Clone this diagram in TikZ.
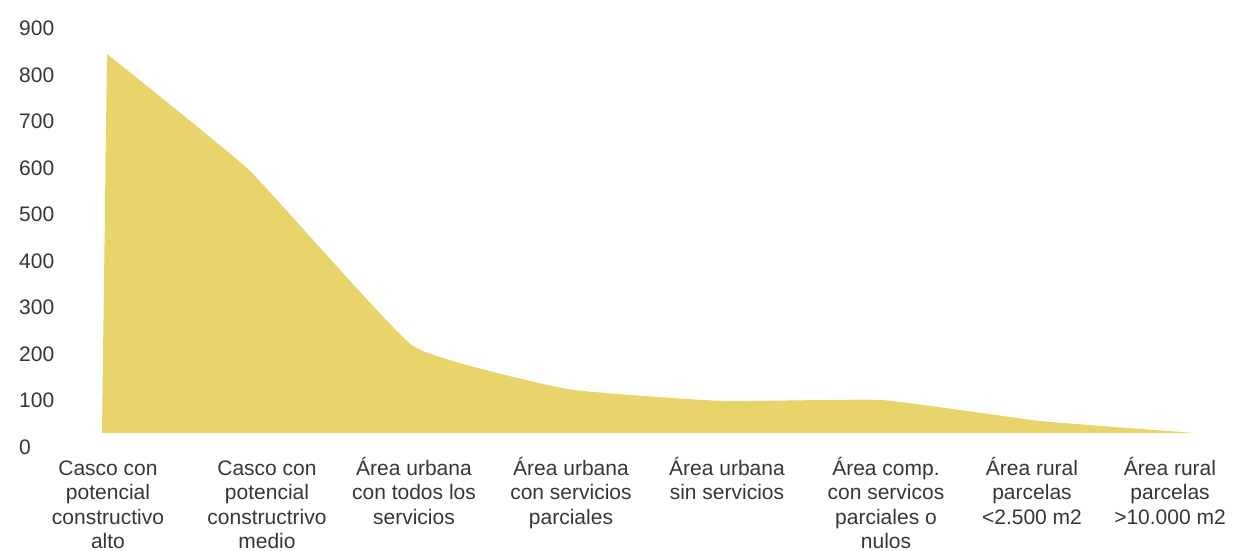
\documentclass[tikz,border=0pt]{standalone}
\usepackage{fontspec}
\setmainfont{Liberation Sans}
\definecolor{areafill}{HTML}{E8D46A}
\definecolor{txt}{HTML}{363636}
\newcommand\catlbl[1]{\vtop{\baselineskip=24.5pt\halign{\hfil##\hfil\cr#1\crcr}}}
\tikzset{
  ylbl/.style={anchor=base west, inner sep=0pt, text=txt, font=\fontsize{21}{24.5}\selectfont},
  xlbl/.style={anchor=base, inner sep=0pt, text=txt, font=\fontsize{21}{24.5}\selectfont}
}
\begin{document}
\begin{tikzpicture}[x=1pt,y=-1pt]
\useasboundingbox (0,0) rectangle (1240,550);
% area
\fill[areafill] (102,433) -- (107,54)
  -- plot[smooth, tension=0.22] coordinates {(107,54) (250,171) (413,346) (567,389) (722,401) (882,400) (1040,421) (1195,433)}
  -- cycle;
% y labels
\foreach \v [count=\i from 0] in {0,100,200,300,400,500,600,700,800,900}{
  \node[ylbl] (y\v) at (19,{454-46.5*\i}) {\v};
}
% x labels
\node[xlbl] (c1) at (108,475) {\catlbl{Casco con\cr potencial\cr constructivo\cr alto}};
\node[xlbl] (c2) at (267,475) {\catlbl{Casco con\cr potencial\cr constructrivo\cr medio}};
\node[xlbl] (c3) at (414,475) {\catlbl{Área urbana\cr con todos los\cr servicios}};
\node[xlbl] (c4) at (571,475) {\catlbl{Área urbana\cr con servicios\cr parciales}};
\node[xlbl] (c5) at (727,475) {\catlbl{Área urbana\cr sin servicios}};
\node[xlbl] (c6) at (886,475) {\catlbl{Área comp.\cr con servicos\cr parciales o\cr nulos}};
\node[xlbl] (c7) at (1032,475) {\catlbl{Área rural\cr parcelas\cr <2.500 m2}};
\node[xlbl] (c8) at (1170,475) {\catlbl{Área rural\cr parcelas\cr >10.000 m2}};
\end{tikzpicture}
\end{document}
